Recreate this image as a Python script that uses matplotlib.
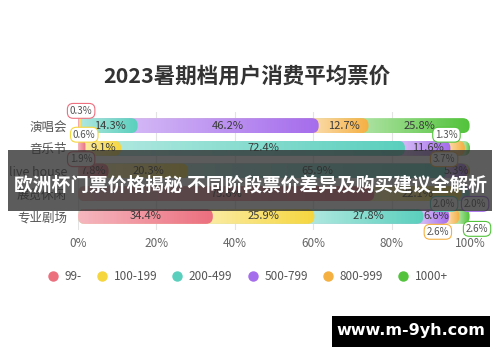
import numpy as np
import matplotlib
matplotlib.use('Agg')
import matplotlib.pyplot as plt
from matplotlib.patches import FancyBboxPatch, Rectangle
from matplotlib.lines import Line2D
from matplotlib.colors import to_rgb

plt.rcParams['font.family'] = ['Noto Sans CJK SC', 'DejaVu Sans']

# Data
categories = ['演唱会', '音乐节', 'live house', '展览休闲', '专业剧场']
bins = ['99-', '100-199', '200-499', '500-799', '800-999', '1000+']
colors = ['#ec6f7e', '#f6d63e', '#5acfbd', '#a56cec', '#f5b042', '#52c33b']
shares = [
    [0.3, 0.6, 14.3, 46.2, 12.7, 25.8],
    [1.9, 9.1, 72.4, 11.6, 3.7, 1.3],
    [7.8, 20.3, 65.9, 5.3, 0.4, 0.3],
    [75.6, 22.1, 2.0, 2.0, 0.0, 0.0],
    [34.4, 25.9, 27.8, 6.6, 2.6, 2.6],
]
title = '2023暑期档用户消费平均票价'
banner = '欧洲杯门票价格揭秘 不同阶段票价差异及购买建议全解析'
watermark = 'www.m-9yh.com'

# callout boxes for thin segments: (row, segment, x in %, y offset in rows)
callouts = [
    (0, 0, 0.8, -0.65), (0, 1, 1.6, 0.40),
    (1, 5, 94.0, -0.60), (1, 0, 0.8, 0.48), (1, 4, 93.4, 0.48),
    (3, 2, 93.4, 0.45), (3, 3, 101.3, 0.45),
    (4, 4, 91.8, 0.68), (4, 5, 101.8, 0.55),
]

W, H = 500, 362
fig = plt.figure(figsize=(W / 100, H / 100), dpi=100)
ax = fig.add_axes([78 / W, 1 - 230 / H, 392 / W, 118 / H])

bar_h = 0.66
px_x = 392 / 100.0
px_y = 118 / 5.2
aspect = px_x / px_y
R = 7 / px_x

for row, vals in enumerate(shares):
    cum = np.cumsum(vals)
    for i in range(len(vals) - 1, -1, -1):
        if vals[i] <= 0:
            continue
        end = cum[i]
        start = end - vals[i]
        r = min(R, end / 2)
        patch = FancyBboxPatch((0, row - bar_h / 2), end, bar_h,
                               boxstyle='round,pad=0,rounding_size=%f' % r,
                               mutation_aspect=aspect, fc='none', ec='none')
        ax.add_patch(patch)
        xs = np.linspace(0, end, 300)
        t = np.clip((xs - start) / max(vals[i], 1e-6), 0, 1)
        a = 0.5 + 0.5 * t
        c = np.array(to_rgb(colors[i]))
        img = (1 - a)[:, None] * np.ones(3) + a[:, None] * c
        im = ax.imshow(img[None, :, :], extent=[0, end, row + bar_h / 2, row - bar_h / 2],
                       aspect='auto', zorder=10 - i, interpolation='bilinear')
        im.set_clip_path(patch)
        if vals[i] >= 5:
            ax.text((start + end) / 2, row, '%.1f%%' % vals[i], ha='center', va='center',
                    fontsize=8, color='#3a3a3a', zorder=20)

for row, i, x, dy in callouts:
    ax.text(x, row + dy, '%.1f%%' % shares[row][i], ha='center', va='center',
            fontsize=7, color='#555555', zorder=25, clip_on=False,
            bbox=dict(boxstyle='round,pad=0.25,rounding_size=0.6', fc='white',
                      ec=colors[i], lw=0.8, alpha=1))

ax.set_xlim(0, 100)
ax.set_ylim(4.6, -0.6)
ax.set_xticks([0, 20, 40, 60, 80, 100])
ax.set_xticklabels(['0%', '20%', '40%', '60%', '80%', '100%'])
ax.set_yticks(range(len(categories)))
ax.set_yticklabels(categories)
ax.tick_params(length=0, labelsize=8.5, colors='#555555')
ax.tick_params(axis='x', pad=5, labelcolor='#666666')
ax.tick_params(axis='y', pad=8, labelsize=9)
ax.grid(axis='x', color='#e3e3e3', lw=0.8)
ax.set_axisbelow(True)
for s in ax.spines.values():
    s.set_visible(False)

fig.text(247 / W, 1 - 76 / H, title, ha='center', va='center', fontsize=15.5,
         color='#333333', fontweight='bold')

handles = [Line2D([], [], ls='none', marker='o', ms=6.5, mfc=c, mec=c) for c in colors]
fig.legend(handles, bins, loc='center', bbox_to_anchor=(248 / W, 1 - 277 / H), ncol=6,
           frameon=False, fontsize=8.5, labelcolor='#555555', handlelength=0.8,
           handletextpad=0.6, columnspacing=1.3)

# banner overlay
fig.add_artist(Rectangle((8 / W, 1 - 211 / H), 484 / W, 61 / H, transform=fig.transFigure,
                         fc='#2e2e2e', ec='none', alpha=0.78, zorder=50))
fig.text(250 / W, 1 - 185 / H, banner, ha='center', va='center', fontsize=13.5,
         color='white', fontweight='bold', zorder=51)

# watermark
fig.add_artist(Rectangle((332 / W, 1 - 347 / H), 158 / W, 31 / H, transform=fig.transFigure,
                         fc='black', ec='none', zorder=50))
fig.text(411 / W, 1 - 331 / H, watermark, ha='center', va='center', fontsize=11.5,
         color='white', fontweight='bold', family='DejaVu Sans', zorder=51)

fig.savefig('out.png', dpi=100, facecolor='white')
